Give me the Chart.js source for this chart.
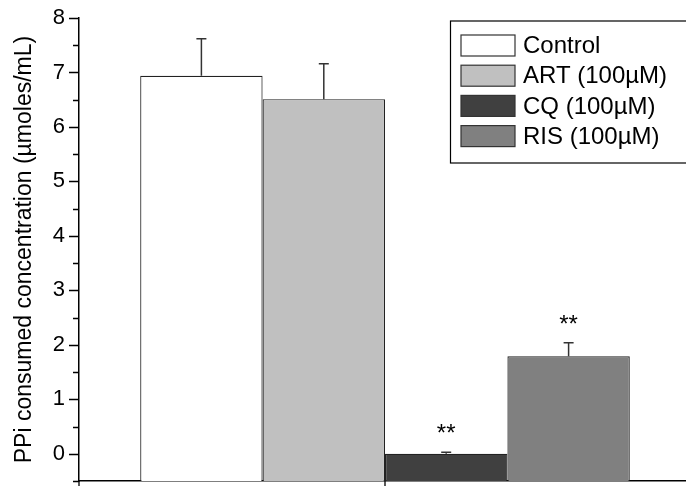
<!DOCTYPE html>
<html>
<head>
<meta charset="utf-8">
<script src="https://cdn.jsdelivr.net/npm/chart.js@4/dist/chart.umd.min.js"></script>
<style>
  html, body { margin: 0; padding: 0; background: #fff; overflow: hidden; }
  canvas { display: block; }
</style>
</head>
<body>
<canvas id="c" width="692" height="486"></canvas>
<script>
// Treatment groups, mean PPi consumed and upper standard error
const categories = ['Control', 'ART (100\u00B5M)', 'CQ (100\u00B5M)', 'RIS (100\u00B5M)'];
const means = [6.94, 6.51, 0.0, 1.79];
const errors = [0.68, 0.65, 0.03, 0.25];
const significance = ['', '', '**', '**'];
const yTicks = [0, 1, 2, 3, 4, 5, 6, 7, 8];
const fills = ['#ffffff', '#c0c0c0', '#404040', '#808080'];

const FONT = "'Liberation Sans', Arial, sans-serif";
const Y_MIN = -0.5, Y_MAX = 8;

// Upper error bars, significance stars, custom axis ticks and framed legend
const decorations = {
  id: 'decorations',
  afterDatasetsDraw(chart) {
    const ctx = chart.ctx;
    const y = chart.scales.y;
    const x = chart.scales.x;
    const area = chart.chartArea;
    ctx.save();

    // error bars + stars
    categories.forEach((name, i) => {
      const bar = chart.getDatasetMeta(i).data[0];
      const cx = bar.x;
      const yv = y.getPixelForValue(means[i]);
      const ye = y.getPixelForValue(means[i] + errors[i]);
      ctx.strokeStyle = '#333';
      ctx.lineWidth = 1.5;
      ctx.beginPath();
      ctx.moveTo(cx, yv);
      ctx.lineTo(cx, ye);
      ctx.moveTo(cx - 5, ye);
      ctx.lineTo(cx + 5, ye);
      ctx.stroke();
      if (significance[i]) {
        ctx.fillStyle = '#000';
        ctx.font = '24px ' + FONT;
        ctx.textAlign = 'center';
        ctx.textBaseline = 'alphabetic';
        ctx.fillText(significance[i], cx, ye - 11);
      }
    });

    // y-axis ticks: major at integers, minor at halves
    ctx.strokeStyle = '#000';
    ctx.lineWidth = 1.3;
    ctx.beginPath();
    for (let k = 0; k <= (Y_MAX - Y_MIN) * 2; k++) {
      const v = Y_MIN + k * 0.5;
      const py = Math.round(y.getPixelForValue(v)) + 0.5;
      const len = Number.isInteger(v) ? 10 : 6;
      ctx.moveTo(area.left, py);
      ctx.lineTo(area.left - len, py);
    }
    // x-axis ticks at the axis start and the group centre
    const xc = x.getPixelForValue(0);
    [area.left, xc].forEach(px => {
      ctx.moveTo(px, area.bottom);
      ctx.lineTo(px, area.bottom + 5);
    });
    ctx.stroke();

    // legend frame
    ctx.lineWidth = 1.2;
    ctx.strokeStyle = '#000';
    ctx.strokeRect(450.5, 21, 260, 142);
    ctx.font = '24px ' + FONT;
    ctx.textAlign = 'left';
    ctx.textBaseline = 'middle';
    categories.forEach((name, i) => {
      const cy = 45.5 + i * 30.2;
      ctx.fillStyle = fills[i];
      ctx.fillRect(461, cy - 10.5, 54, 21);
      ctx.strokeStyle = '#333';
      ctx.lineWidth = 1.2;
      ctx.strokeRect(461, cy - 10.5, 54, 21);
      ctx.fillStyle = '#000';
      ctx.fillText(name, 523, cy + 1);
    });
    ctx.restore();
  }
};

new Chart(document.getElementById('c'), {
  type: 'bar',
  data: {
    labels: [''],
    datasets: categories.map((name, i) => ({
      label: name,
      data: [means[i]],
      base: Y_MIN,
      backgroundColor: fills[i],
      borderColor: '#222',
      borderWidth: 1.2,
      barPercentage: 1.0,
      categoryPercentage: 0.8
    }))
  },
  options: {
    responsive: false,
    animation: false,
    devicePixelRatio: 1,
    layout: { padding: { top: 18, right: 1, bottom: 0, left: 0 } },
    plugins: {
      legend: { display: false },
      tooltip: { enabled: false }
    },
    scales: {
      x: {
        type: 'category',
        offset: true,
        grid: { display: true, drawOnChartArea: false, drawTicks: false },
        border: { display: true, color: '#000', width: 1.5 },
        ticks: { display: false },
        afterFit(scale) {
          scale.height = 5;
          scale.paddingLeft = 0;
          scale.paddingRight = 0;
        }
      },
      y: {
        min: Y_MIN,
        max: Y_MAX,
        grid: { display: true, drawOnChartArea: false, drawTicks: false },
        border: { display: true, color: '#000', width: 1.5 },
        afterBuildTicks(scale) {
          scale.ticks = yTicks.map(v => ({ value: v }));
        },
        ticks: {
          padding: 14,
          color: '#000',
          font: { family: FONT, size: 22 },
          callback: v => String(v)
        },
        title: {
          display: true,
          text: 'PPi consumed concentration (\u00B5moles/mL)',
          color: '#000',
          font: { family: FONT, size: 23 },
          padding: { top: 11, bottom: 0 }
        },
        afterFit(scale) {
          scale.width = 79;
          scale.paddingTop = 0;
          scale.paddingBottom = 0;
        }
      }
    }
  },
  plugins: [decorations]
});
</script>
</body>
</html>
